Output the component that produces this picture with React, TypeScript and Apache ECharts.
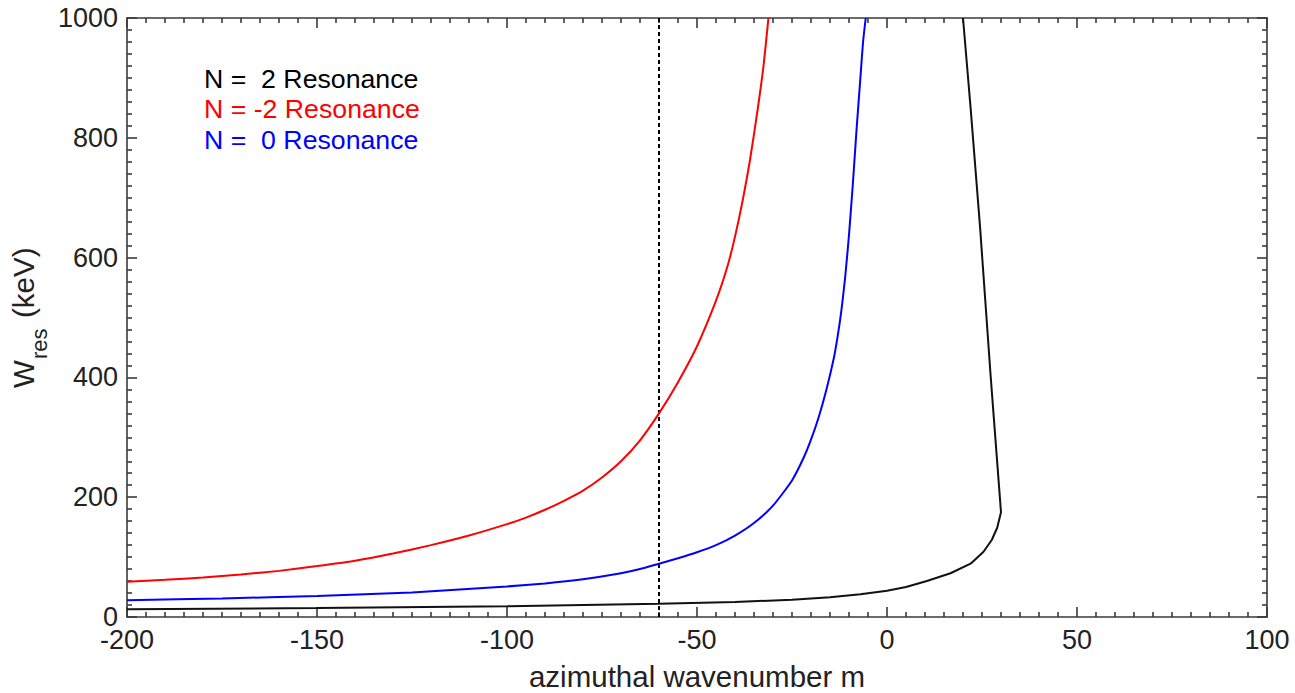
import React, { useEffect, useRef } from "react";
import * as echarts from "echarts";

// azimuthal wavenumber m (x) and resonant energy W_res in keV (y)
const redM = [-200, -190, -180, -170, -160, -150, -140, -130, -120, -110, -100, -95, -90, -85, -80, -75, -70, -65, -60, -55, -50, -45, -42, -40, -38, -36, -34, -32.5, -31.2];
const redW = [59, 62, 66, 71, 77, 85, 94, 106, 120, 136, 155, 166, 179, 194, 211, 233, 260, 295, 340, 392, 452, 528, 585, 635, 695, 765, 849, 920, 1000];

const blueM = [-200, -175, -150, -125, -100, -90, -80, -70, -65, -60, -55, -50, -45, -40, -35, -30, -25, -22, -20, -18, -16, -14, -13, -12, -11, -10, -9, -8, -7, -6.3, -5.6];
const blueW = [28, 31, 35, 41, 51, 56, 63, 73, 80, 89, 98, 108, 120, 136, 157, 186, 228, 265, 296, 333, 378, 432, 468, 512, 568, 638, 722, 815, 900, 960, 1000];

const blackM = [-200, -150, -100, -60, -40, -25, -15, -7, 0, 5, 10.5, 16.7, 22, 25.4, 27.6, 29, 30, 27.3, 24.5, 22, 20];
const blackW = [13, 15, 18, 22, 25, 29, 33, 38, 44, 50, 60, 73, 89, 109, 129, 149, 175, 400, 650, 850, 1000];

const markerM = [-60, -60];
const markerW = [0, 1000];

const legendLabels = ["N =  2 Resonance", "N = -2 Resonance", "N =  0 Resonance"];
const legendColors = ["#000000", "#ff0000", "#0000ff"];

const xTitle = "azimuthal wavenumber m";

const FONT = "'Liberation Sans', Arial, Helvetica, sans-serif";

function zip(a: number[], b: number[]) {
  return a.map((v, i) => [v, b[i]]);
}

export default function App() {
  const ref = useRef<HTMLDivElement>(null);
  useEffect(() => {
    if (!ref.current) return;
    const chart = echarts.init(ref.current, undefined, { renderer: "svg" });
    const axisColor = "#3a3a3a";
    const ls = { color: axisColor, width: 1.6 };
    const baseX = {
      type: "value" as const,
      min: -200,
      max: 100,
      interval: 50,
      splitLine: { show: false },
      axisLine: { show: true, onZero: false, lineStyle: ls },
      axisTick: { show: true, inside: true, length: 10, lineStyle: ls },
      minorTick: { show: true, splitNumber: 10, length: 5, lineStyle: ls },
      minorSplitLine: { show: false },
    };
    const baseY = {
      type: "value" as const,
      min: 0,
      max: 1000,
      interval: 200,
      splitLine: { show: false },
      axisLine: { show: true, onZero: false, lineStyle: ls },
      axisTick: { show: true, inside: true, length: 10, lineStyle: ls },
      minorTick: { show: true, splitNumber: 10, length: 5, lineStyle: ls },
      minorSplitLine: { show: false },
    };
    const fmt = (v: number) => String(v);
    const option: any = {
      animation: false,
      backgroundColor: "#ffffff",
      grid: { left: 127, right: 28, top: 18, bottom: 76, containLabel: false, outerBoundsMode: "none" },
      xAxis: [
        {
          ...baseX,
          position: "bottom",
          axisLabel: { fontSize: 27, color: "#222", margin: 9, fontFamily: FONT, formatter: fmt },
          name: xTitle,
          nameLocation: "middle",
          nameGap: 44,
          nameTextStyle: { fontSize: 29.5, color: "#222", fontFamily: FONT },
        },
        { ...baseX, position: "top", axisLabel: { show: false } },
      ],
      yAxis: [
        {
          ...baseY,
          position: "left",
          axisLabel: { fontSize: 27, color: "#222", margin: 9, fontFamily: FONT, formatter: fmt },
        },
        { ...baseY, position: "right", axisLabel: { show: false } },
      ],
      series: [
        {
          type: "line",
          data: zip(markerM, markerW),
          showSymbol: false,
          symbol: "none",
          lineStyle: { color: "#000", width: 2, type: [4, 3] },
          z: 1,
        },
        {
          type: "line",
          data: zip(blackM, blackW),
          showSymbol: false,
          symbol: "none",
          smooth: false,
          lineStyle: { color: "#111", width: 2 },
          z: 2,
        },
        {
          type: "line",
          data: zip(redM, redW),
          showSymbol: false,
          symbol: "none",
          smooth: 0.2,
          lineStyle: { color: "#ff0000", width: 2 },
          z: 3,
        },
        {
          type: "line",
          data: zip(blueM, blueW),
          showSymbol: false,
          symbol: "none",
          smooth: 0.2,
          lineStyle: { color: "#0000ff", width: 2 },
          z: 3,
        },
      ],
      graphic: [
        ...legendLabels.map((t, i) => ({
          type: "text",
          left: 204,
          top: 65 + i * 30.5,
          style: { text: t, fill: legendColors[i], fontSize: 26.7, fontFamily: FONT },
        })),
        {
          type: "group",
          x: 38,
          y: 388,
          rotation: Math.PI / 2,
          children: [
            {
              type: "text",
              x: 0,
              y: 0,
              style: { text: "W", fill: "#222", fontSize: 29.5, fontFamily: FONT, verticalAlign: "bottom", align: "left" },
            },
            {
              type: "text",
              x: 29,
              y: 12,
              style: { text: "res", fill: "#222", fontSize: 22, fontFamily: FONT, verticalAlign: "bottom", align: "left" },
            },
            {
              type: "text",
              x: 70,
              y: 0,
              style: { text: "(keV)", fill: "#222", fontSize: 29.5, fontFamily: FONT, verticalAlign: "bottom", align: "left" },
            },
          ],
        },
      ],
    };
    chart.setOption(option);
    return () => chart.dispose();
  }, []);
  return (
    <div
      ref={ref}
      style={{ position: "fixed", left: 0, top: 0, width: 1295, height: 693, background: "#fff" }}
    />
  );
}
